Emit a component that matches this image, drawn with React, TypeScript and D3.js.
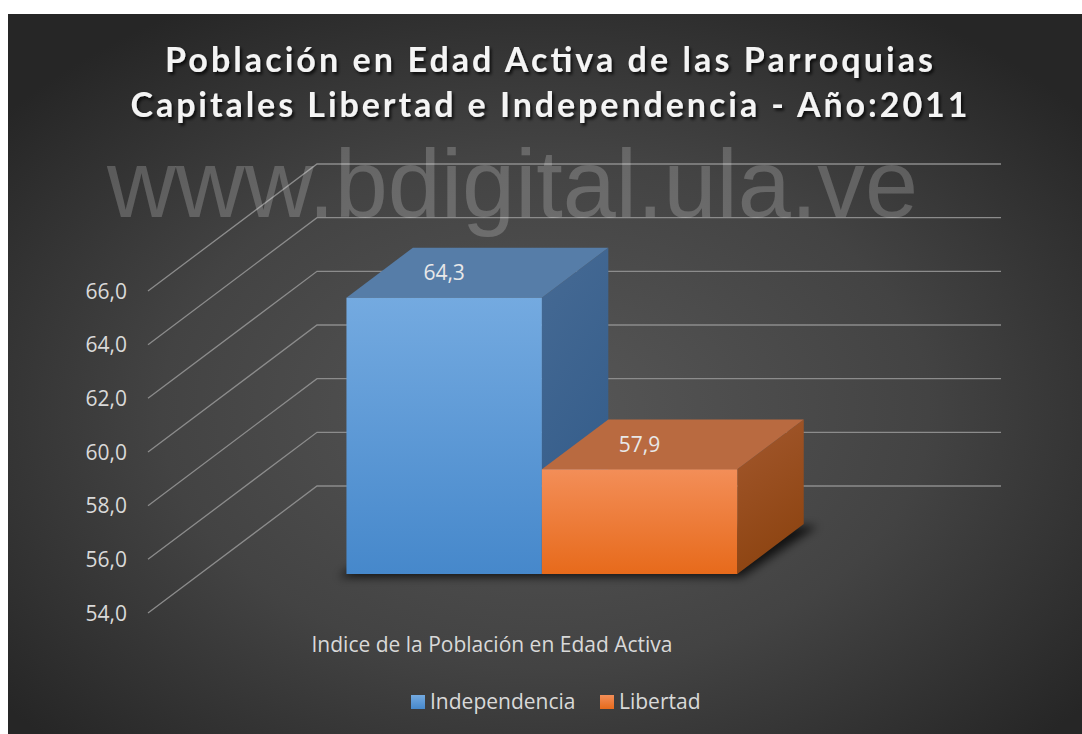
import React from "react";
import * as d3 from "d3";

// ---- data ----
const titleLines = [
  "Población en Edad Activa de las Parroquias",
  "Capitales Libertad e Independencia - Año:2011",
];
const categories = ["Indice de la Población en Edad Activa"];
const seriesNames = ["Independencia", "Libertad"];
const seriesValues = [64.3, 57.9];
const yTicks = [54, 56, 58, 60, 62, 64, 66];
const watermark = "www.bdigital.ula.ve";

// ---- layout ----
const W = 1082;
const H = 734;
const FONT = "'Open Sans', 'DejaVu Sans', sans-serif";
const DEPTH = { dx: 169, dy: -127 }; // front plane -> back wall
const BAR_T0 = 0.307; // bar front face depth fraction
const BAR_T1 = 0.7; // bar back face depth fraction

const yFront = d3.scaleLinear().domain([54, 66]).range([613, 291]);
const xFront = d3.scaleBand<string>().domain(categories).range([148, 832]).paddingInner(0).paddingOuter(0.375);
const xSeries = d3.scaleBand<string>().domain(seriesNames).range([0, xFront.bandwidth()]).padding(0);

const fmt = d3.formatLocale({ decimal: ",", thousands: ".", grouping: [3], currency: ["", ""] }).format(".1f");

const faceColors = [
  { frontTop: "#74aae0", frontBottom: "#4688cb", top: "#567da8", sideTop: "#466a94", sideBottom: "#335c8a" },
  { frontTop: "#f38e58", frontBottom: "#e76a1b", top: "#b96a40", sideTop: "#a3582e", sideBottom: "#8d4411" },
];

const pt = (x: number, y: number, t: number): [number, number] => [x + DEPTH.dx * t, y + DEPTH.dy * t];
const poly = (pts: [number, number][]) => pts.map((p) => p.join(",")).join(" ");

export default function App() {
  const base = yTicks[0];
  const cat = categories[0];
  const bars = seriesNames.map((name, i) => {
    const x0 = (xFront(cat) ?? 0) + (xSeries(name) ?? 0);
    const x1 = x0 + xSeries.bandwidth();
    const yTop = yFront(seriesValues[i]);
    const yBot = yFront(base);
    const fTL = pt(x0, yTop, BAR_T0);
    const fTR = pt(x1, yTop, BAR_T0);
    const fBR = pt(x1, yBot, BAR_T0);
    const fBL = pt(x0, yBot, BAR_T0);
    const bTL = pt(x0, yTop, BAR_T1);
    const bTR = pt(x1, yTop, BAR_T1);
    const bBR = pt(x1, yBot, BAR_T1);
    return { name, i, fTL, fTR, fBR, fBL, bTL, bTR, bBR };
  });

  const backLeft = 148 + DEPTH.dx;
  const backRight = 1001;
  const last = bars[bars.length - 1];

  return (
    <svg width={W} height={H} style={{ position: "absolute", left: 0, top: 0 }} xmlns="http://www.w3.org/2000/svg">
      <defs>
        <radialGradient id="bg" cx="50%" cy="55%" r="65%">
          <stop offset="0%" stopColor="#575757" />
          <stop offset="55%" stopColor="#434343" />
          <stop offset="100%" stopColor="#262626" />
        </radialGradient>
        {faceColors.map((c, i) => (
          <React.Fragment key={i}>
            <linearGradient id={`front${i}`} x1="0" y1="0" x2="0" y2="1">
              <stop offset="0%" stopColor={c.frontTop} />
              <stop offset="100%" stopColor={c.frontBottom} />
            </linearGradient>
            <linearGradient id={`side${i}`} x1="0" y1="0" x2="0.3" y2="1">
              <stop offset="0%" stopColor={c.sideTop} />
              <stop offset="100%" stopColor={c.sideBottom} />
            </linearGradient>
          </React.Fragment>
        ))}
        <filter id="titleShadow" x="-10%" y="-30%" width="120%" height="160%">
          <feDropShadow dx="2" dy="2.5" stdDeviation="1.6" floodColor="#000" floodOpacity="0.75" />
        </filter>
        <filter id="barShadow" x="-20%" y="-50%" width="140%" height="200%">
          <feGaussianBlur stdDeviation="5" />
        </filter>
      </defs>

      <rect x={0} y={0} width={W} height={H} fill="#ffffff" />
      <rect x={8} y={14} width={W - 8} height={H - 14} fill="url(#bg)" />

      {/* title */}
      <g fill="#f4f4f4" fontFamily="Lato, 'Open Sans', sans-serif" fontWeight="bold" fontSize={34} textAnchor="middle" filter="url(#titleShadow)">
        <text x={549} y={72} textLength={768} lengthAdjust="spacing">{titleLines[0]}</text>
        <text x={549} y={117} textLength={837} lengthAdjust="spacing">{titleLines[1]}</text>
      </g>

      {/* gridlines: side wall diagonals + back wall */}
      <g stroke="#8c8c8c" strokeWidth={1.3} fill="none">
        {yTicks.map((v) => {
          const yf = yFront(v);
          const yb = yf + DEPTH.dy;
          return <polyline key={v} points={poly([[148, yf], [backLeft, yb], [backRight, yb]])} />;
        })}
      </g>

      {/* watermark */}
      <text x={107} y={217} fontFamily="'Liberation Sans', Arial, sans-serif" fontSize={96} fill="#ffffff" fillOpacity={0.2} textLength={811} lengthAdjust="spacingAndGlyphs">
        {watermark}
      </text>

      {/* y axis labels */}
      <g fontFamily={FONT} fontSize={21} fill="#d9d9d9" textAnchor="end">
        {yTicks.map((v) => (
          <text key={v} x={127} y={yFront(v)} dy="0.36em">{fmt(v)}</text>
        ))}
      </g>

      {/* floor shadow under bars */}
      <polygon
        points={poly([
          [bars[0].fBL[0] - 8, bars[0].fBL[1] + 3],
          [last.fBR[0] + 4, last.fBR[1] + 3],
          [last.bBR[0] + 14, last.bBR[1] + 2],
          [bars[0].bTL[0], last.bBR[1] + 2],
        ])}
        fill="#000"
        fillOpacity={0.75}
        filter="url(#barShadow)"
      />

      {/* bars */}
      {bars.map((b) => (
        <g key={b.name}>
          <polygon points={poly([b.fTR, b.bTR, b.bBR, b.fBR])} fill={`url(#side${b.i})`} />
          <polygon points={poly([b.fTL, b.bTL, b.bTR, b.fTR])} fill={faceColors[b.i].top} />
          <polygon points={poly([b.fTL, b.fTR, b.fBR, b.fBL])} fill={`url(#front${b.i})`} />
        </g>
      ))}

      {/* data labels */}
      <g fontFamily={FONT} fontSize={21} fill="#e8e8e8" textAnchor="middle">
        {bars.map((b) => (
          <text key={b.name} x={(b.fTL[0] + b.fTR[0]) / 2} y={(b.fTL[1] + b.bTL[1]) / 2} dy="0.36em">
            {fmt(seriesValues[b.i])}
          </text>
        ))}
      </g>

      {/* category axis label */}
      <text x={492} y={652} fontFamily={FONT} fontSize={21} fill="#d9d9d9" textAnchor="middle">
        {categories[0]}
      </text>

      {/* legend */}
      <g fontFamily={FONT} fontSize={21} fill="#d9d9d9">
        {[{ x: 411 }, { x: 600 }].map((l, i) => (
          <g key={seriesNames[i]}>
            <rect x={l.x} y={695} width={14} height={14} fill={`url(#front${i})`} />
            <text x={l.x + 19} y={709}>{seriesNames[i]}</text>
          </g>
        ))}
      </g>
    </svg>
  );
}
